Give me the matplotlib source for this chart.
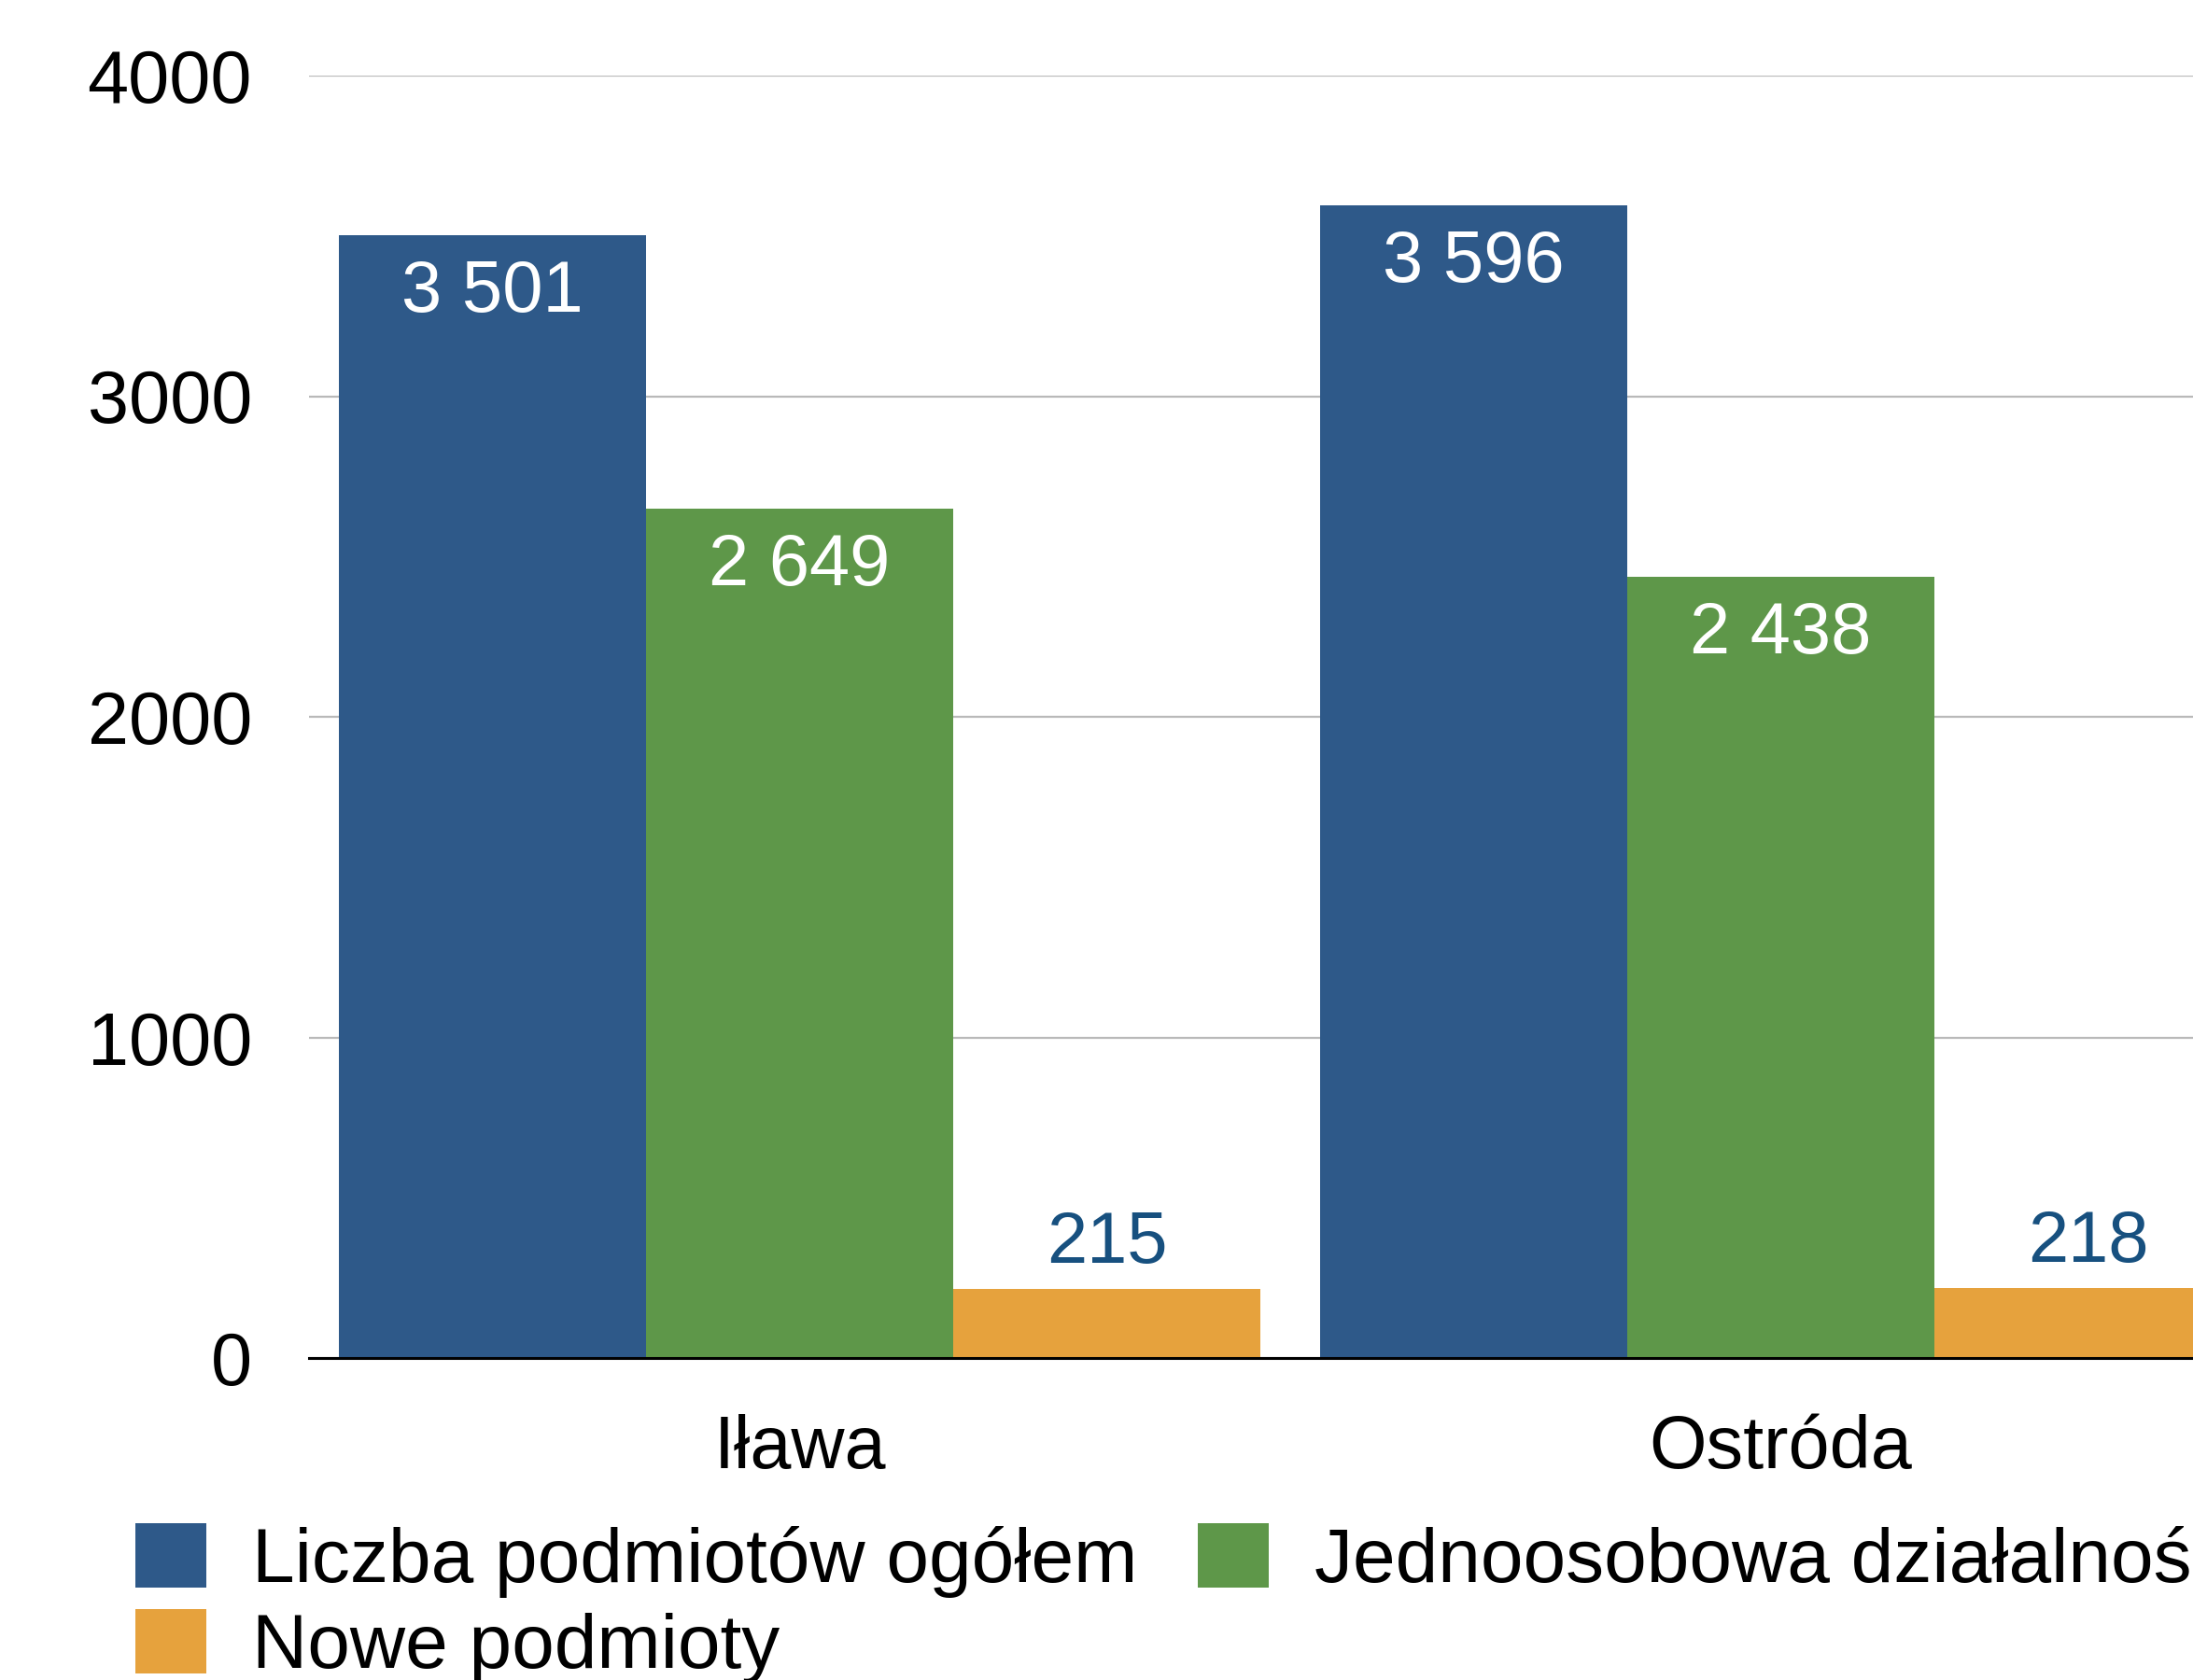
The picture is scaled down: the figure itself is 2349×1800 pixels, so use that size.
import matplotlib
matplotlib.use("Agg")
import matplotlib.pyplot as plt
from matplotlib.patches import Patch
import numpy as np

plt.rcParams['font.family'] = ['Liberation Sans', 'DejaVu Sans']

categories = ["Iława", "Ostróda"]
series_names = ["Liczba podmiotów ogółem", "Jednoosobowa działalność gospodarcza", "Nowe podmioty"]
total = [3501, 3596]
sole = [2649, 2438]
new = [215, 218]
yticks = [0, 1000, 2000, 3000, 4000]

colors = ["#2E5989", "#5E9749", "#E6A23D"]
label_colors = ["white", "white", "#17507F"]

W, H = 2349, 1800
fig = plt.figure(figsize=(W / 100, H / 100), dpi=100)
ax = fig.add_axes([331 / W, 1 - 1455 / H, 2 * 1051 / W, (1455 - 81) / H])

x = np.arange(len(categories))
w = 329 / 1051
data = [total, sole, new]
for i, (vals, c, lc) in enumerate(zip(data, colors, label_colors)):
    xs = x + (i - 1) * w
    ax.bar(xs, vals, width=w, color=c, zorder=2, linewidth=0)
    for xi, v in zip(xs, vals):
        txt = f"{v:,}".replace(",", " ")
        if lc == "white":
            ax.annotate(txt, (xi, v), xytext=(0, -18), textcoords="offset points",
                        ha="center", va="top", fontsize=56, color=lc, zorder=3)
        else:
            ax.annotate(txt, (xi, v), xytext=(0, 9), textcoords="offset points",
                        ha="center", va="bottom", fontsize=56, color=lc, zorder=3)

ax.set_xlim(-0.5, len(categories) - 0.5)
ax.set_ylim(0, 4000)
ax.set_yticks(yticks)
ax.set_yticklabels([str(t) for t in yticks])
ax.set_xticks(x)
ax.set_xticklabels(categories)
ax.tick_params(axis="both", length=0, labelsize=57, colors="black")
ax.tick_params(axis="y", pad=44)
ax.tick_params(axis="x", pad=43)
ax.yaxis.grid(True, color="#B9B9B9", linewidth=1.6, zorder=0)
ax.set_axisbelow(True)
for s in ["top", "right", "left"]:
    ax.spines[s].set_visible(False)
ax.spines["bottom"].set_linewidth(2.2)
ax.spines["bottom"].set_color("black")
ax.spines["bottom"].set_zorder(4)

handles = [Patch(facecolor=c, edgecolor="none") for c in colors]
order = [0, 2, 1]
fig.legend([handles[k] for k in order], [series_names[k] for k in order],
           loc="upper left", ncol=2,
           bbox_to_anchor=(145 / W, 1 - 1632 / H), frameon=False,
           fontsize=59, handlelength=0.93, handleheight=0.92,
           handletextpad=0.6, columnspacing=0.78, labelspacing=0.15,
           borderpad=0, borderaxespad=0)

fig.savefig("out.png", dpi=100)
